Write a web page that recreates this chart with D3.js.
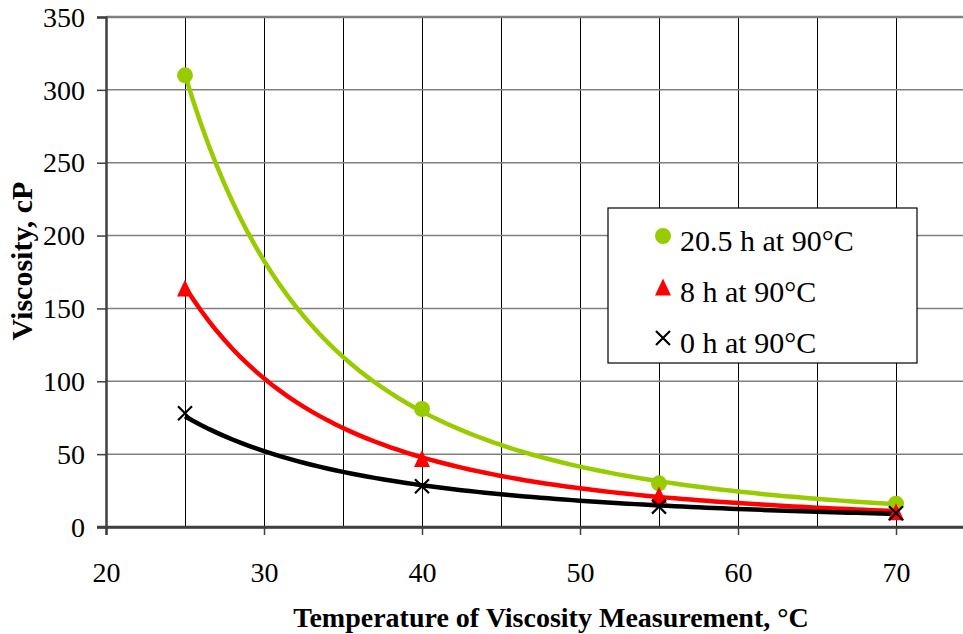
<!DOCTYPE html>
<html>
<head>
<meta charset="utf-8">
<script src="https://cdn.jsdelivr.net/npm/d3@7"></script>
<style>
  body { margin: 0; background: #fff; }
  svg text { font-family: "Liberation Serif", "Times New Roman", serif; fill: #000; }
</style>
</head>
<body>
<svg id="chart" width="963" height="634"></svg>
<script>
// measurement temperatures (°C) and viscosities (cP)
const temps = [25, 40, 55, 70];
const visc20h = [310, 81, 30, 16];
const visc8h = [164, 47, 22, 10.5];
const visc0h = [78, 28, 14, 9.5];

const seriesNames = ['20.5 h at 90°C', '8 h at 90°C', '0 h at 90°C'];
const xTicks = [20, 30, 40, 50, 60, 70];
const yTicks = [0, 50, 100, 150, 200, 250, 300, 350];

const svg = d3.select('#chart');

const x = d3.scaleLinear().domain([20, 75]).range([106, 975]);
const y = d3.scaleLinear().domain([0, 350]).range([527, 17]);
const px = v => Math.round(v) + 0.5; // crisp 1px lines

const series = [
    {name: seriesNames[0], values: visc20h, color: '#99cc00', shape: 'circle'},
    {name: seriesNames[1], values: visc8h, color: '#ff0000', shape: 'triangle'},
    {name: seriesNames[2], values: visc0h, color: '#000000', shape: 'cross'}
];

// vertical gridlines every 5 °C
svg.append('g')
    .selectAll('line')
    .data(d3.range(25, 76, 5))
    .join('line')
    .attr('x1', d => px(x(d))).attr('x2', d => px(x(d)))
    .attr('y1', y(350)).attr('y2', y(0))
    .attr('stroke', '#000')
    .attr('stroke-width', 1);

// horizontal gridlines
svg.append('g')
    .selectAll('line')
    .data(yTicks.filter(d => d > 0))
    .join('line')
    .attr('x1', x(20)).attr('x2', 975)
    .attr('y1', d => y(d)).attr('y2', d => y(d))
    .attr('stroke', '#808080')
    .attr('stroke-width', d => d === 350 ? 2.5 : 1.5);

// axes
const yAxis = svg.append('g')
    .attr('transform', `translate(${x(20)},0)`)
    .call(d3.axisLeft(y).tickValues(yTicks).tickSize(9).tickPadding(12));
const xAxis = svg.append('g')
    .attr('transform', `translate(0,${y(0)})`)
    .call(d3.axisBottom(x).tickValues(xTicks).tickSize(8).tickPadding(27));

[yAxis, xAxis].forEach(a => {
    a.attr('font-family', null).attr('font-size', null);
    a.select('.domain').attr('stroke', '#404040').attr('stroke-width', 2.5);
    a.selectAll('.tick line').attr('stroke', '#404040').attr('stroke-width', 1.5);
    a.selectAll('.tick text').style('font-size', '28px');
});
yAxis.selectAll('.tick text').attr('dy', '0.33em');
// bottom axis extends to left tick
svg.append('line')
    .attr('x1', x(20) - 9).attr('x2', 975)
    .attr('y1', y(0)).attr('y2', y(0))
    .attr('stroke', '#404040').attr('stroke-width', 2.5);

// power trendline (least squares in log-log space), like the spreadsheet trendline
function powerFit(xs, ys) {
    const lx = xs.map(Math.log), ly = ys.map(Math.log);
    const mx = d3.mean(lx), my = d3.mean(ly);
    const b = d3.sum(lx, (v, i) => (v - mx) * (ly[i] - my)) / d3.sum(lx, v => (v - mx) ** 2);
    const a = Math.exp(my - b * mx);
    return t => a * Math.pow(t, b);
}

const line = d3.line().x(d => x(d[0])).y(d => y(d[1]));
series.forEach(s => {
    const f = powerFit(temps, s.values);
    const pts = d3.range(temps[0], temps[temps.length - 1] + 0.01, 0.5).map(t => [t, f(t)]);
    svg.append('path')
        .attr('d', line(pts))
        .attr('fill', 'none')
        .attr('stroke', s.color)
        .attr('stroke-width', 4.5);
});

function drawMarker(g, shape, color, cx, cy) {
    if (shape === 'circle') {
        g.append('circle').attr('cx', cx).attr('cy', cy).attr('r', 8).attr('fill', color);
    } else if (shape === 'triangle') {
        g.append('path')
            .attr('d', `M${cx},${cy - 8.5}L${cx + 8},${cy + 8.5}L${cx - 8},${cy + 8.5}Z`)
            .attr('fill', color);
    } else {
        g.append('path')
            .attr('d', `M${cx - 7},${cy - 7}L${cx + 7},${cy + 7}M${cx - 7},${cy + 7}L${cx + 7},${cy - 7}`)
            .attr('stroke', color)
            .attr('stroke-width', 2.2);
    }
}

const markers = svg.append('g');
series.forEach(s => {
    temps.forEach((t, i) => drawMarker(markers, s.shape, s.color, x(t), y(s.values[i])));
});

// legend
const legend = svg.append('g');
legend.append('rect')
    .attr('x', 608).attr('y', 208)
    .attr('width', 309).attr('height', 155)
    .attr('fill', '#fff')
    .attr('stroke', '#000')
    .attr('stroke-width', 1.2);
series.forEach((s, i) => {
    const cy = 236 + i * 51;
    drawMarker(legend, s.shape, s.color, 663, cy);
    legend.append('text')
        .attr('x', 680).attr('y', cy + 15)
        .style('font-size', '30px')
        .text(s.name);
});

// axis titles
svg.append('text')
    .attr('x', 551).attr('y', 627)
    .attr('text-anchor', 'middle')
    .style('font-size', '28px')
    .style('font-weight', 'bold')
    .text('Temperature of Viscosity Measurement, °C');
svg.append('text')
    .attr('transform', 'translate(32,261) rotate(-90)')
    .attr('text-anchor', 'middle')
    .style('font-size', '30px')
    .style('font-weight', 'bold')
    .text('Viscosity, cP');
</script>
</body>
</html>
